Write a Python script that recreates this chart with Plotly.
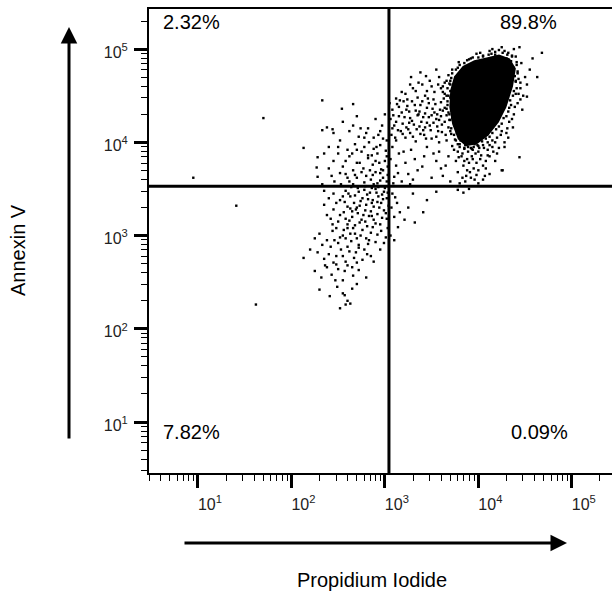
import plotly.graph_objects as go

# ---- data (log10 of fluorescence intensity) ----
# dense core of the late-apoptotic population (outline of the solid black area)
core_outline = [(4.09, 4.90), (4.22, 4.93), (4.33, 4.89), (4.39, 4.79), (4.36, 4.60),
                (4.29, 4.38), (4.21, 4.22), (4.10, 4.08), (3.98, 3.99), (3.87, 3.97),
                (3.79, 4.04), (3.73, 4.20), (3.70, 4.38), (3.71, 4.56), (3.75, 4.70),
                (3.84, 4.81), (3.96, 4.87)]

# events crowding the edge of the core
core_edge_events = [
    (4.05, 4.93), (4.14, 4.95), (4.26, 4.96), (4.36, 4.92), (4.41, 4.83), (4.42, 4.76),
    (4.40, 4.65), (4.38, 4.55), (4.34, 4.45), (4.32, 4.33), (4.27, 4.26), (4.22, 4.17),
    (4.15, 4.10), (4.08, 4.04), (4.00, 3.96), (3.93, 3.93), (3.85, 3.94), (3.78, 3.98),
    (3.74, 4.08), (3.71, 4.15), (3.69, 4.30), (3.67, 4.44), (3.68, 4.50), (3.69, 4.63),
    (3.72, 4.74), (3.80, 4.83), (3.90, 4.89), (4.00, 4.91), (4.18, 4.97), (4.31, 4.94),
    (4.39, 4.71), (4.37, 4.50), (4.30, 4.28), (4.19, 4.14), (4.04, 4.01), (3.89, 3.95),
    (3.76, 4.02), (3.70, 4.24), (3.66, 4.36), (3.70, 4.66), (3.76, 4.78), (3.94, 4.91),
    (4.11, 4.94), (4.23, 4.90), (4.45, 4.64), (4.43, 4.52), (4.33, 4.37), (4.25, 4.20),
    (4.12, 4.06), (3.96, 3.98),
]

# scattered events around the core
halo_events = [
    (3.62, 4.60), (3.66, 4.66), (3.70, 4.55), (3.68, 4.72), (3.74, 4.62), (3.64, 4.52),
    (3.72, 4.78), (3.76, 4.70), (3.78, 4.80), (3.70, 4.48),
    (3.85, 4.85), (3.92, 4.90), (3.98, 4.95), (4.05, 4.92), (4.12, 4.98), (4.18, 4.94),
    (4.25, 5.02), (4.32, 4.96), (4.38, 5.00), (4.44, 5.02), (4.22, 4.99), (4.08, 4.88),
    (3.95, 4.84), (4.30, 4.90), (4.40, 4.92), (4.35, 4.87),
    (4.38, 4.80), (4.42, 4.74), (4.46, 4.85), (4.40, 4.66), (4.45, 4.58), (4.50, 4.70),
    (4.48, 4.50), (4.52, 4.62), (4.63, 4.70), (4.52, 4.49), (4.47, 4.35), (4.42, 4.42),
    (4.38, 4.30), (4.37, 4.16), (4.33, 4.22), (4.40, 4.52), (4.35, 4.40), (4.55, 4.78),
    (4.58, 4.90), (4.68, 4.96), (4.30, 4.10), (4.44, 3.84), (4.26, 3.70),
    (4.20, 4.05), (4.25, 4.12), (4.15, 4.02), (4.10, 4.00), (4.28, 4.00), (4.32, 4.05),
    (3.77, 4.15), (3.74, 4.27), (3.71, 4.69), (3.67, 4.58), (3.76, 4.45), (3.78, 4.55),
    (3.74, 4.52), (3.80, 4.65), (3.82, 4.75), (3.79, 4.86), (3.88, 4.88), (4.02, 4.96),
    (4.15, 5.00), (4.28, 4.98), (4.36, 4.93), (4.41, 4.86), (4.43, 4.68), (4.45, 4.46),
    (4.41, 4.58), (4.39, 4.38), (4.36, 4.25), (4.31, 4.15), (4.24, 4.08), (4.18, 4.00),
    (4.12, 3.97), (4.06, 3.94), (3.99, 3.97), (3.92, 3.94), (3.86, 3.97), (3.81, 4.02),
]

# upper-right band between the gate and the core
band_events = [
    (3.22, 4.52), (3.35, 4.48), (3.45, 4.55), (3.52, 4.46), (3.60, 4.58), (3.66, 4.50),
    (3.30, 4.58), (3.40, 4.62), (3.72, 4.47), (3.12, 4.47), (3.48, 4.66), (3.58, 4.70),
    (3.28, 4.70), (3.70, 4.62), (3.38, 4.75), (3.55, 4.78),
    (3.08, 4.35), (3.13, 4.41), (3.18, 4.32), (3.24, 4.39), (3.29, 4.44), (3.33, 4.34),
    (3.38, 4.40), (3.43, 4.31), (3.47, 4.42), (3.51, 4.36), (3.56, 4.30), (3.60, 4.43),
    (3.64, 4.37), (3.68, 4.32), (3.72, 4.41), (3.20, 4.44), (3.36, 4.30), (3.54, 4.41),
    (3.45, 4.37), (3.26, 4.33), (3.62, 4.34), (3.40, 4.44), (3.15, 4.38), (3.74, 4.36),
    (3.06, 4.25), (3.10, 4.18), (3.15, 4.28), (3.19, 4.20), (3.23, 4.16), (3.27, 4.26),
    (3.31, 4.19), (3.35, 4.29), (3.39, 4.22), (3.43, 4.16), (3.47, 4.27), (3.52, 4.21),
    (3.56, 4.17), (3.60, 4.28), (3.64, 4.22), (3.68, 4.16), (3.72, 4.26), (3.12, 4.22),
    (3.29, 4.23), (3.45, 4.21), (3.58, 4.24), (3.37, 4.17), (3.21, 4.27), (3.50, 4.29),
    (3.66, 4.29), (3.08, 4.15),
    (3.07, 4.08), (3.12, 4.02), (3.17, 4.12), (3.22, 4.05), (3.27, 4.10), (3.33, 4.01),
    (3.38, 4.09), (3.44, 4.04), (3.49, 4.13), (3.55, 4.06), (3.61, 4.11), (3.66, 4.02),
    (3.71, 4.09), (3.75, 4.03), (3.25, 4.14), (3.41, 4.13), (3.58, 4.00), (3.14, 4.13),
    (3.05, 4.42), (3.09, 4.29), (3.11, 4.05), (3.16, 4.45), (3.19, 4.09), (3.23, 4.35),
    (3.26, 4.21), (3.30, 4.06), (3.32, 4.40), (3.34, 4.14), (3.37, 4.33), (3.41, 4.27),
    (3.42, 4.08), (3.46, 4.47), (3.48, 4.18), (3.50, 4.04), (3.53, 4.32), (3.55, 4.25),
    (3.57, 4.12), (3.59, 4.35), (3.61, 4.19), (3.63, 4.47), (3.65, 4.08), (3.67, 4.40),
    (3.69, 4.24), (3.70, 4.12), (3.73, 4.30), (3.75, 4.18), (3.77, 4.10), (3.79, 4.25),
    (3.24, 4.46), (3.33, 4.55), (3.43, 4.50), (3.53, 4.54), (3.62, 4.54), (3.18, 4.54),
    (3.27, 4.62), (3.50, 4.60), (3.64, 4.64), (3.44, 4.71), (3.36, 4.64), (3.57, 4.62),
]

# lower part of the upper-right quadrant
lower_q2_events = [
    (3.08, 3.95), (3.15, 3.88), (3.22, 3.78), (3.28, 3.92), (3.35, 3.70), (3.42, 3.85),
    (3.50, 3.62), (3.58, 3.90), (3.65, 3.75), (3.72, 3.96), (3.78, 3.68), (3.82, 3.85),
    (3.86, 3.58), (3.90, 3.78), (3.94, 3.92), (3.98, 3.65), (4.02, 3.82), (4.05, 3.60),
    (3.80, 3.95), (3.88, 3.70), (3.92, 3.62), (3.76, 3.80), (3.84, 3.75), (3.97, 3.88),
    (4.08, 3.72), (3.10, 3.63), (3.18, 3.58), (3.12, 3.75), (3.30, 3.60), (3.45, 3.95),
    (3.55, 3.80), (3.25, 3.66), (3.70, 3.58), (3.62, 3.64), (3.80, 3.56), (3.87, 3.64),
    (4.00, 3.56), (4.12, 3.66), (4.18, 3.80), (4.25, 3.70),
    (3.80, 3.98), (3.85, 3.93), (3.90, 3.99), (3.95, 3.95), (4.00, 3.90), (4.05, 3.97),
    (4.10, 3.92), (4.15, 3.95), (3.83, 3.88), (3.93, 3.85), (4.03, 3.86), (4.12, 3.85),
    (3.78, 3.90), (3.88, 3.82), (3.98, 3.78), (4.08, 3.80), (4.20, 3.88), (4.28, 3.95),
    (3.95, 3.72), (4.05, 3.75),
    (3.83, 3.62), (3.91, 3.68), (4.00, 3.70), (4.07, 3.64), (3.96, 3.60), (3.85, 3.80),
    (3.94, 3.82), (4.10, 3.86), (4.16, 3.90), (3.79, 3.84), (3.89, 3.90), (4.01, 3.94),
    (4.22, 3.94), (3.74, 3.92), (3.68, 3.85), (3.60, 3.72), (3.52, 3.88), (3.40, 3.74),
    (3.32, 3.82), (3.20, 3.90), (3.14, 3.67), (3.06, 3.82), (3.09, 3.56), (3.27, 3.55),
]

# diagonal cloud around the vertical gate (left side)
left_cloud_events = [
    (2.55, 4.22), (2.70, 4.28), (2.82, 4.15), (2.90, 4.25), (2.97, 4.18), (2.62, 4.12),
    (2.78, 4.05), (2.93, 4.08), (3.00, 4.30), (2.45, 4.10),
    (2.40, 3.95), (2.52, 4.02), (2.60, 3.92), (2.68, 3.98), (2.75, 3.90), (2.83, 4.00),
    (2.88, 3.93), (2.95, 3.97), (3.01, 3.91), (2.72, 4.06), (2.35, 3.88), (2.98, 4.04),
    (2.13, 3.94), (2.28, 3.84), (2.45, 3.80), (2.55, 3.74), (2.62, 3.85), (2.70, 3.78),
    (2.77, 3.72), (2.82, 3.83), (2.87, 3.76), (2.92, 3.88), (2.96, 3.71), (3.00, 3.80),
    (3.03, 3.74), (2.66, 3.70), (2.50, 3.88), (2.84, 3.70), (2.90, 3.80),
    (2.27, 3.73), (2.28, 3.63), (2.43, 3.64), (2.52, 3.67), (2.73, 3.78), (2.82, 3.86),
    (2.91, 3.95), (2.95, 3.67), (2.87, 3.65), (2.62, 3.58), (2.70, 3.62), (2.78, 3.57),
    (2.85, 3.60), (2.92, 3.56), (2.98, 3.62), (3.02, 3.58), (2.58, 3.66), (2.75, 3.68),
    (2.95, 3.59), (3.03, 3.65), (2.66, 3.55), (2.88, 3.55),
    (2.45, 3.45), (2.52, 3.38), (2.58, 3.48), (2.63, 3.42), (2.67, 3.35), (2.72, 3.47),
    (2.76, 3.40), (2.80, 3.33), (2.84, 3.46), (2.87, 3.38), (2.90, 3.50), (2.93, 3.42),
    (2.96, 3.35), (2.99, 3.47), (3.02, 3.40), (3.04, 3.32), (2.70, 3.30), (2.60, 3.31),
    (2.78, 3.49), (2.88, 3.31), (2.97, 3.44), (2.55, 3.42), (2.82, 3.39), (2.92, 3.36),
    (2.40, 3.40), (2.35, 3.48),
    (2.38, 3.22), (2.45, 3.28), (2.50, 3.15), (2.56, 3.25), (2.60, 3.12), (2.65, 3.20),
    (2.69, 3.28), (2.73, 3.14), (2.77, 3.22), (2.81, 3.10), (2.85, 3.26), (2.88, 3.17),
    (2.92, 3.23), (2.95, 3.12), (2.99, 3.27), (3.02, 3.18), (2.63, 3.29), (2.75, 3.17),
    (2.83, 3.21), (2.52, 3.22), (2.71, 3.24), (2.90, 3.13), (2.58, 3.18), (2.44, 3.12),
    (2.30, 3.02), (2.38, 2.95), (2.44, 3.05), (2.50, 2.92), (2.55, 3.00), (2.60, 3.08),
    (2.64, 2.94), (2.68, 3.02), (2.72, 2.90), (2.76, 3.06), (2.80, 2.97), (2.85, 3.03),
    (2.90, 2.93), (2.96, 3.05), (3.01, 2.98), (2.58, 2.97), (2.70, 2.97), (2.48, 3.08),
    (2.82, 2.91), (2.66, 3.08), (2.25, 2.97), (2.20, 2.85),
    (2.28, 2.82), (2.35, 2.75), (2.42, 2.88), (2.48, 2.78), (2.53, 2.85), (2.58, 2.72),
    (2.62, 2.83), (2.67, 2.76), (2.72, 2.87), (2.76, 2.74), (2.81, 2.80), (2.88, 2.72),
    (2.95, 2.85), (2.55, 2.78), (2.45, 2.71), (2.70, 2.71), (2.13, 2.76),
    (2.25, 2.62), (2.32, 2.55), (2.38, 2.66), (2.43, 2.58), (2.50, 2.64), (2.55, 2.52),
    (2.60, 2.68), (2.66, 2.57), (2.72, 2.63), (2.80, 2.55), (2.47, 2.52), (2.36, 2.68),
    (2.30, 2.42), (2.41, 2.35), (2.49, 2.45), (2.55, 2.38), (2.60, 2.30), (2.65, 2.43),
    (2.58, 2.26), (2.70, 2.48), (2.52, 2.22), (2.63, 2.27), (2.57, 2.36),
    (2.64, 3.52), (2.71, 3.51), (2.79, 3.53), (2.86, 3.51), (2.93, 3.52), (3.00, 3.51),
    (2.61, 3.45), (2.68, 3.43), (2.74, 3.37), (2.81, 3.44), (2.86, 3.35), (2.91, 3.46),
    (2.98, 3.39), (3.03, 3.46), (2.57, 3.36), (2.65, 3.26), (2.73, 3.32), (2.79, 3.27),
    (2.86, 3.21), (2.94, 3.30), (3.01, 3.24), (2.62, 3.16), (2.68, 3.11), (2.79, 3.15),
    (2.87, 3.09), (2.97, 3.19), (3.03, 3.08), (2.56, 3.06), (2.63, 3.02), (2.74, 3.00),
    (2.83, 2.95), (2.92, 3.01), (2.99, 2.92), (2.52, 2.98), (2.60, 2.88), (2.69, 2.82),
    (2.78, 2.85), (2.85, 2.78), (2.65, 2.66), (2.57, 2.62), (2.48, 2.69), (2.40, 2.80),
    (2.33, 2.90), (2.46, 2.95), (2.42, 3.18), (2.35, 3.33), (2.48, 3.35), (2.53, 3.55),
    (2.46, 3.58), (2.60, 3.62), (2.68, 3.65), (2.80, 3.64), (2.90, 3.68), (2.98, 3.70),
    (3.02, 3.85), (2.94, 3.78), (2.86, 3.86), (2.78, 3.95), (2.65, 3.88), (2.58, 3.80),
    (2.70, 3.92), (2.80, 4.10), (2.88, 4.05), (2.95, 4.12), (3.02, 4.02), (2.66, 4.18),
    (2.74, 4.15), (2.50, 3.95), (2.40, 3.72), (2.33, 3.55),
]

# lower-right quadrant (few events)
q4_events = [
    (3.08, 3.45), (3.11, 3.41), (3.16, 3.25), (3.21, 3.17), (3.14, 3.09), (3.32, 3.14),
    (3.45, 3.38), (3.41, 3.25), (3.13, 3.35), (3.25, 3.30), (3.07, 3.30), (3.10, 3.20),
    (3.06, 3.00), (3.78, 3.49), (3.84, 3.46), (3.90, 3.50), (3.30, 3.45), (3.55, 3.47),
    (3.10, 2.95),
]

# isolated outliers
outlier_events = [
    (0.95, 3.62), (1.41, 3.32), (1.70, 4.26), (1.62, 2.26), (2.33, 4.45), (2.54, 4.36),
    (2.66, 4.41), (2.44, 4.14), (2.38, 4.16), (2.33, 4.13),
]

# quadrant gates
gate_pi = 1105
gate_annexin = 3370

# quadrant percentages
quadrant_labels = ["2.32%", "89.8%", "7.82%", "0.09%"]

# axis ticks
tick_vals = [1e1, 1e2, 1e3, 1e4, 1e5]
tick_text = ["10<sup>1</sup>", "10<sup>2</sup>", "10<sup>3</sup>", "10<sup>4</sup>", "10<sup>5</sup>"]
minor_vals = [m * 10 ** e for e in range(0, 6) for m in range(2, 10)]

x_title = "Propidium Iodide"
y_title = "Annexin V"

# ---- figure ----
W, H = 612, 598
L, T, PW, PH = 149, 9, 463, 464
B = H - T - PH

def px(xp):
    return (xp - L) / PW

def py(yp):
    return (T + PH - yp) / PH

fig = go.Figure()

cx = [10 ** a for a, b in core_outline] + [10 ** core_outline[0][0]]
cy = [10 ** b for a, b in core_outline] + [10 ** core_outline[0][1]]
fig.add_trace(go.Scatter(x=cx, y=cy, mode="lines", fill="toself", fillcolor="black",
                         line=dict(color="black", width=2), hoverinfo="skip"))

all_events = (core_edge_events + halo_events + band_events + lower_q2_events
              + left_cloud_events + q4_events + outlier_events)
fig.add_trace(go.Scatter(
    x=[10 ** a for a, b in all_events], y=[10 ** b for a, b in all_events],
    mode="markers", marker=dict(symbol="square", size=2.4, color="black", line=dict(width=0)),
    hoverinfo="skip"))

fig.add_shape(type="line", xref="x", yref="paper", x0=gate_pi, x1=gate_pi, y0=0, y1=1,
              line=dict(color="black", width=3))
fig.add_shape(type="line", xref="paper", yref="y", x0=0, x1=1, y0=gate_annexin, y1=gate_annexin,
              line=dict(color="black", width=3))

font_main = dict(family="Liberation Sans, Arial, sans-serif", size=20, color="black")

ann = []
ann.append(dict(text=quadrant_labels[0], x=px(161), y=py(22), xanchor="left", yanchor="middle"))
ann.append(dict(text=quadrant_labels[1], x=px(559), y=py(22), xanchor="right", yanchor="middle"))
ann.append(dict(text=quadrant_labels[2], x=px(161), y=py(432), xanchor="left", yanchor="middle"))
ann.append(dict(text=quadrant_labels[3], x=px(570), y=py(432), xanchor="right", yanchor="middle"))
ann.append(dict(text=y_title, x=px(18), y=py(250), xanchor="center", yanchor="middle", textangle=-90))
ann.append(dict(text=x_title, x=px(372), y=py(580), xanchor="center", yanchor="middle"))
for a in ann:
    a.update(xref="paper", yref="paper", showarrow=False, font=font_main)
    fig.add_annotation(**a)

# arrows
fig.add_annotation(x=px(69), y=py(27), xref="paper", yref="paper", text="", showarrow=True,
                   ax=0, ay=413, arrowhead=2, arrowsize=1.1, arrowwidth=3, arrowcolor="black",
                   standoff=0)
fig.add_annotation(x=px(567), y=py(543), xref="paper", yref="paper", text="", showarrow=True,
                   ax=-384, ay=0, arrowhead=2, arrowsize=1.1, arrowwidth=3, arrowcolor="black",
                   standoff=0)

tick_font = dict(family="Liberation Sans, Arial, sans-serif", size=16, color="#222")
common = dict(type="log", tickmode="array", tickvals=tick_vals, ticktext=tick_text,
              ticks="outside", ticklen=13, tickwidth=3, tickcolor="black",
              showline=True, linecolor="black", linewidth=2, showgrid=False, zeroline=False,
              tickfont=tick_font,
              minor=dict(tickmode="array", tickvals=minor_vals, ticks="outside", ticklen=6,
                         tickwidth=1, tickcolor="black", showgrid=False))

fig.update_xaxes(range=[0.476, 5.43], mirror=True, ticklabelshift=12, ticklabelstandoff=3, **common)
fig.update_yaxes(range=[0.453, 5.43], mirror=False, ticklabelshift=3, ticklabelstandoff=3, **common)

fig.update_layout(width=W, height=H, margin=dict(l=L, r=W - L - PW, t=T, b=B),
                  paper_bgcolor="white", plot_bgcolor="white", showlegend=False)

fig.write_html("out.html", config={"displayModeBar": False},
               post_script="document.body.style.margin='0';document.body.style.overflow='hidden';")
